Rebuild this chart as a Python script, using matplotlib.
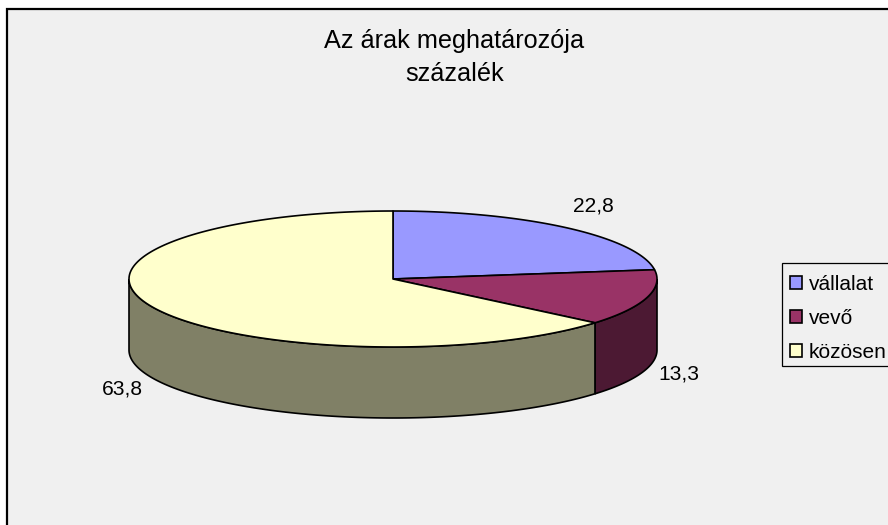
import numpy as np
import matplotlib
matplotlib.use("Agg")
import matplotlib.pyplot as plt
from matplotlib.patches import Polygon, Patch, Rectangle

categories = ["vállalat", "vevő", "közösen"]
values = [22.8, 13.3, 63.8]
value_labels = ["22,8", "13,3", "63,8"]
title_lines = ["Az árak meghatározója", "százalék"]

top_colors = ["#9999FF", "#993366", "#FFFFCC"]
side_colors = ["#4C4C80", "#4C1933", "#808066"]
label_centers = [(593.5, 206.5), (679, 374.5), (122.5, 389)]
title_anchors = [(454, 48), (454.5, 81)]

plt.rcParams["font.family"] = ["Liberation Sans", "DejaVu Sans"]
W, H = 888, 525
fig = plt.figure(figsize=(W / 100, H / 100), dpi=100, facecolor="white")
ax = fig.add_axes([0, 0, 1, 1])
ax.set_xlim(0, W)
ax.set_ylim(H, 0)
ax.axis("off")

# chart area
ax.add_patch(Rectangle((7, 8.5), W, H, facecolor="#F0F0F0", edgecolor="black", lw=1.6, zorder=0))

cx, cy, rx, ry, depth = 393, 279, 264, 68, 71
lw = 1.2


def rim(a0, a1, n=200):
    t = np.radians(np.linspace(a0, a1, n))
    return cx + rx * np.sin(t), cy - ry * np.cos(t)


total = sum(values)
edges = np.concatenate([[0], np.cumsum(values) / total * 360])
edges[-1] = 360

# side walls (front half only: 90..270 deg clockwise from 12 o'clock)
for i in range(len(values)):
    a0, a1 = max(edges[i], 90), min(edges[i + 1], 270)
    if a1 <= a0:
        continue
    x, y = rim(a0, a1)
    pts = np.r_[np.c_[x, y], np.c_[x[::-1], y[::-1] + depth]]
    ax.add_patch(Polygon(pts, closed=True, facecolor=side_colors[i], edgecolor="black", lw=lw, zorder=2))

# top faces
for i in range(len(values)):
    x, y = rim(edges[i], edges[i + 1])
    pts = np.r_[[[cx, cy]], np.c_[x, y]]
    ax.add_patch(Polygon(pts, closed=True, facecolor=top_colors[i], edgecolor="black", lw=lw, zorder=3, joinstyle="round"))

for (lx, ly), s in zip(label_centers, value_labels):
    ax.text(lx, ly, s, ha="center", va="center", fontsize=15.1, color="black", zorder=5)

for (tx, ty), s in zip(title_anchors, title_lines):
    ax.text(tx, ty, s, ha="center", va="baseline", fontsize=18.2, color="black", zorder=5)

# legend frame runs off the right edge of the picture
ax.add_patch(Rectangle((782, 263), 120, 103, facecolor="#F0F0F0", edgecolor="black", lw=0.9, zorder=4))
handles = [Patch(facecolor=c, edgecolor="black", lw=1.2) for c in top_colors]
leg = ax.legend(handles, categories, loc="upper left", bbox_to_anchor=(782 / W, 1 - 267 / H),
                borderaxespad=0, frameon=False, fontsize=15, handlelength=0.58, handleheight=0.58,
                handletextpad=0.34, labelspacing=0.72, borderpad=0.38)
leg.set_zorder(6)

fig.savefig("out.png", dpi=100)
